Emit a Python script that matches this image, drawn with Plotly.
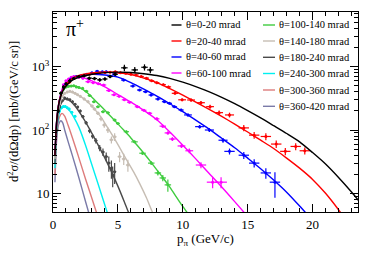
import plotly.graph_objects as go

# ---------------- data ----------------
labels = ["θ=0-20 mrad", "θ=20-40 mrad", "θ=40-60 mrad", "θ=60-100 mrad",
          "θ=100-140 mrad", "θ=140-180 mrad", "θ=180-240 mrad",
          "θ=240-300 mrad", "θ=300-360 mrad", "θ=360-420 mrad"]
colors = ["#000000", "#ff0000", "#0000ff", "#ff00ff", "#3fcc3f",
          "#c6bdb3", "#4a4a4a", "#00f0f0", "#dd7b7b", "#7a7aa8"]

# fit curves (momentum, cross section)
fit_p_0 = [0.15, 0.3, 0.5, 0.8, 1.2, 1.6, 2.0, 3.0, 4.0, 5.0, 6.0, 7.0, 8.0, 9.0, 10.0, 11.0, 12.0, 13.0, 14.0, 15.0, 16.0, 17.0, 18.0, 19.0, 20.0, 21.0, 22.0, 23.0, 24.0]
fit_v_0 = [40, 150, 290, 430, 550, 630, 680, 760, 805, 820, 810, 775, 725, 653, 569, 484, 403, 327, 260, 202, 155, 117, 88, 65, 44, 29, 17.8, 10.5, 5.9]
fit_p_1 = [0.15, 0.3, 0.5, 0.8, 1.2, 1.6, 2.0, 3.0, 4.0, 5.0, 6.0, 7.0, 8.0, 9.0, 10.0, 11.0, 12.0, 13.0, 14.0, 15.0, 16.0, 17.0, 18.0, 19.0, 20.0, 21.0, 22.0, 22.6]
fit_v_1 = [40, 150, 300, 450, 580, 670, 730, 800, 820, 800, 750, 660, 562, 452, 355, 275, 214, 164, 124, 93, 69, 51, 36, 25, 16.6, 10, 5.5, 3.7]
fit_p_2 = [0.15, 0.3, 0.5, 0.8, 1.2, 1.6, 2.0, 3.0, 4.0, 5.0, 6.0, 7.0, 8.0, 9.0, 10.0, 11.0, 12.0, 13.0, 14.0, 15.0, 16.0, 17.0, 18.0, 19.0, 19.6]
fit_v_2 = [40, 150, 300, 460, 590, 670, 720, 760, 740, 684, 562, 442, 343, 260, 195, 143, 104, 74, 52.5, 36, 24.5, 16.2, 10.4, 6.3, 4.6]
fit_p_3 = [0.15, 0.3, 0.5, 0.8, 1.2, 1.6, 2.0, 3.0, 4.0, 5.0, 6.0, 7.0, 8.0, 9.0, 10.0, 11.0, 12.0, 13.0, 14.0, 15.0]
fit_v_3 = [40, 150, 300, 500, 630, 690, 700, 596, 479, 363, 275, 204, 145, 93, 57.5, 35, 21, 12.6, 7.4, 4.3]
fit_p_4 = [0.15, 0.3, 0.5, 0.8, 1.2, 1.6, 2.0, 2.5, 3.0, 3.5, 4.0, 4.5, 5.0, 5.5, 6.0, 6.5, 7.0, 7.5, 8.0, 8.5, 9.0, 9.5, 10.0, 10.3, 10.8]
fit_v_4 = [40, 150, 300, 440, 490, 500, 470, 410, 330, 260, 205, 160, 125, 97, 75, 57, 43, 32, 23.5, 17.3, 12.5, 8.8, 6.2, 5.1, 3.6]
fit_p_5 = [0.15, 0.3, 0.5, 0.8, 1.1, 1.4, 1.8, 2.2, 2.7, 3.2, 3.7, 4.2, 4.7, 5.2, 5.7, 6.2, 6.7, 7.2, 7.65, 8.1]
fit_v_5 = [35, 130, 250, 360, 400, 400, 370, 330, 275, 214, 160, 110, 75, 50, 33, 22, 14, 8.5, 5.1, 3.2]
fit_p_6 = [0.15, 0.3, 0.5, 0.7, 1.0, 1.3, 1.7, 2.2, 2.8, 3.4, 4.0, 4.5, 5.0, 5.5, 5.8, 6.2]
fit_v_6 = [30, 110, 220, 280, 310, 290, 240, 170, 105, 62, 36, 22, 13, 7.3, 5.1, 3.3]
fit_p_7 = [0.15, 0.3, 0.5, 0.7, 0.85, 1.0, 1.3, 1.6, 2.0, 2.5, 3.0, 3.5, 4.0, 4.4]
fit_v_7 = [25, 100, 190, 230, 235, 228, 200, 160, 110, 58, 28, 13.5, 6.5, 3.6]
fit_p_8 = [0.15, 0.3, 0.5, 0.7, 0.9, 1.15, 1.5, 2.0, 2.5, 3.0, 3.5]
fit_v_8 = [20, 90, 160, 183, 165, 121, 75, 36, 17, 8.3, 4.0]
fit_p_9 = [0.15, 0.3, 0.45, 0.6, 0.75, 0.9, 1.2, 1.5, 2.0, 2.5, 3.0]
fit_v_9 = [15, 80, 125, 140, 130, 100, 62, 39, 17.5, 7.5, 3.3]

# measured points: momentum, value, horizontal half width, vertical error
dat_p_0 = [0.4, 0.6, 0.8, 1.0, 1.3, 1.6, 2.0, 2.4, 2.8, 3.2, 3.6, 4.0, 4.4, 4.8, 5.5, 6.3, 7.05, 7.5]
dat_v_0 = [200, 380, 480, 540, 600, 650, 700, 720, 660, 650, 620, 640, 700, 760, 960, 890, 980, 890]
dat_ex_0 = [0.1, 0.1, 0.1, 0.1, 0.15, 0.15, 0.2, 0.2, 0.2, 0.2, 0.2, 0.2, 0.2, 0.2, 0.25, 0.25, 0.25, 0.25]
dat_ey_0 = [15, 25, 30, 30, 35, 35, 40, 40, 40, 40, 40, 40, 45, 50, 110, 100, 110, 100]

dat_p_1 = [1.2, 1.6, 2.0, 2.4, 2.8, 3.2, 3.6, 4.0, 4.4, 4.8, 5.2, 5.6, 6.0, 6.4, 6.8, 7.2, 7.6, 8.0, 8.5, 8.9, 9.4, 9.95, 10.64, 11.4, 12.1, 12.8, 13.6, 14.7, 15.5, 16.4, 17.2, 17.9, 18.7, 19.4]
dat_v_1 = [560, 650, 700, 740, 760, 790, 800, 810, 820, 830, 800, 790, 760, 740, 700, 660, 600, 560, 520, 480, 380, 300, 298, 270, 234, 188, 173, 108, 83, 79, 60, 46, 55, 47]
dat_ex_1 = [0.2] * 20 + [0.25, 0.3, 0.3, 0.3, 0.3, 0.3, 0.35, 0.4, 0.4, 0.4, 0.4, 0.4, 0.4, 0.4]
dat_ey_1 = [22, 26, 28, 30, 30, 32, 32, 32, 33, 32, 32, 32, 30, 30, 28, 26, 24, 22, 21, 20, 16, 15, 18, 18, 17, 15, 15, 12, 10, 10, 8, 6, 7, 6]

dat_p_2 = [1.0, 1.4, 1.8, 2.2, 2.6, 3.0, 3.4, 3.8, 4.1, 4.74, 5.44, 6.15, 6.67, 7.13, 7.56, 8.08, 8.59, 8.97, 9.36, 9.87, 10.4, 11.3, 12.05, 13.1, 13.6, 14.7, 15.5, 16.4, 17.1]
dat_v_2 = [520, 640, 700, 720, 760, 800, 850, 830, 834, 766, 616, 495, 428, 403, 357, 309, 280, 264, 233, 207, 173, 113, 100, 69, 46, 40, 30, 21, 15]
dat_ex_2 = [0.15] * 9 + [0.2] * 11 + [0.3, 0.35, 0.35, 0.35, 0.4, 0.4, 0.4, 0.4, 0.4]
dat_ey_2 = [20, 25, 28, 29, 30, 32, 34, 33, 34, 31, 25, 20, 17, 16, 15, 13, 12, 11, 10, 9, 9, 7, 7, 6, 5, 5, 4.5, 4, 6.5]

dat_p_3 = [0.8, 1.0, 1.2, 1.4, 1.6, 1.8, 2.0, 2.3, 2.7, 3.1, 3.5, 3.9, 4.3, 4.7, 5.1, 5.5, 5.9, 6.5, 7.0, 7.44, 8.0, 8.46, 8.85, 9.2, 9.9, 10.5, 11.4, 12.3, 12.95]
dat_v_3 = [520, 600, 640, 680, 700, 690, 680, 655, 580, 560, 540, 514, 420, 360, 340, 300, 275, 233, 205, 184, 150, 115, 90, 72, 56, 47, 28, 15, 15]
dat_ex_3 = [0.1] * 8 + [0.2] * 13 + [0.25, 0.25, 0.25, 0.3, 0.3, 0.4, 0.45, 0.45]
dat_ey_3 = [20, 24, 26, 27, 28, 28, 27, 26, 23, 22, 22, 21, 17, 15, 14, 12, 11, 10, 9, 8, 7, 6, 5, 5, 4, 4, 3, 3, 3]

dat_p_4 = [0.6, 0.8, 1.0, 1.2, 1.4, 1.6, 1.8, 2.0, 2.28, 2.57, 2.82, 3.15, 3.46, 3.85, 4.23, 4.75, 5.0, 5.65, 6.28, 6.9, 7.57, 8.08, 8.46, 8.85]
dat_v_4 = [380, 440, 480, 490, 495, 500, 480, 470, 455, 410, 350, 280, 233, 195, 188, 144, 127, 94, 65, 43, 30, 21, 17.5, 13.6]
dat_ex_4 = [0.1] * 9 + [0.15] * 8 + [0.2, 0.25, 0.25, 0.25, 0.25, 0.25, 0.25]
dat_ey_4 = [15, 18, 19, 20, 20, 20, 19, 19, 18, 16, 14, 11, 9, 8, 8, 6, 5, 4, 3, 2.5, 2, 1.8, 2, 3]

dat_p_5 = [0.5, 0.7, 0.9, 1.1, 1.3, 1.5, 1.7, 1.9, 2.1, 2.4, 2.7, 3.0, 3.2, 3.46, 3.7, 3.95, 4.23, 4.5, 4.75, 5.13, 5.45, 5.77]
dat_v_5 = [260, 340, 380, 400, 410, 400, 380, 360, 340, 310, 280, 240, 215, 184, 150, 120, 100, 70, 78, 38, 35, 28]
dat_ex_5 = [0.1] * 11 + [0.15] * 11
dat_ey_5 = [12, 15, 17, 18, 18, 18, 17, 16, 16, 15, 14, 13, 12, 12, 12, 11, 10, 9, 11, 7, 7, 6]

dat_p_6 = [0.3, 0.5, 0.7, 0.9, 1.1, 1.3, 1.5, 1.7, 1.9, 2.1, 2.3, 2.55, 2.82, 3.05, 3.3, 3.6, 3.85, 4.1, 4.3, 4.5, 4.6, 4.75]
dat_v_6 = [100, 230, 290, 320, 310, 300, 280, 255, 230, 200, 163, 130, 97, 80, 68, 52, 45, 38, 30, 25, 19.5, 22]
dat_ex_6 = [0.1] * 10 + [0.12] * 12
dat_ey_6 = [6, 12, 14, 15, 15, 15, 14, 13, 12, 11, 10, 9, 8, 7, 7, 6, 6, 6, 8, 8, 7, 8]

dat_p_7 = [0.35, 0.5, 0.65, 0.8, 0.95, 1.1, 1.25, 1.45, 1.7]
dat_v_7 = [150, 200, 225, 235, 235, 225, 215, 190, 165]
dat_ex_7 = [0.07] * 9
dat_ey_7 = [8, 9, 10, 10, 10, 10, 9, 9, 8]

fits = [(fit_p_0, fit_v_0), (fit_p_1, fit_v_1), (fit_p_2, fit_v_2), (fit_p_3, fit_v_3),
        (fit_p_4, fit_v_4), (fit_p_5, fit_v_5), (fit_p_6, fit_v_6), (fit_p_7, fit_v_7),
        (fit_p_8, fit_v_8), (fit_p_9, fit_v_9)]
dats = [(dat_p_0, dat_v_0, dat_ex_0, dat_ey_0), (dat_p_1, dat_v_1, dat_ex_1, dat_ey_1),
        (dat_p_2, dat_v_2, dat_ex_2, dat_ey_2), (dat_p_3, dat_v_3, dat_ex_3, dat_ey_3),
        (dat_p_4, dat_v_4, dat_ex_4, dat_ey_4), (dat_p_5, dat_v_5, dat_ex_5, dat_ey_5),
        (dat_p_6, dat_v_6, dat_ex_6, dat_ey_6), (dat_p_7, dat_v_7, dat_ex_7, dat_ey_7)]

x_ticks = [0, 5, 10, 15, 20]
y_ticks = [10, 100, 1000]
y_ticktext = ["10", "10<sup>2</sup>", "10<sup>3</sup>"]
y_minor = [6, 7, 8, 9, 20, 30, 40, 50, 60, 70, 80, 90, 200, 300, 400, 500, 600, 700, 800, 900, 2000, 3000, 4000, 5000, 6000, 7000]

FONT = "Liberation Serif"

fig = go.Figure()
for i in range(9, -1, -1):
    c = colors[i]
    if i < len(dats):
        p, v, ex, ey = dats[i]
        fig.add_trace(go.Scatter(
            x=p, y=v, mode="markers", name=labels[i],
            marker=dict(color=c, size=3),
            error_x=dict(type="data", array=ex, width=0, thickness=1.2, color=c),
            error_y=dict(type="data", array=ey, width=0, thickness=1.2, color=c),
            showlegend=False, hoverinfo="skip"))
    fp, fv = fits[i]
    fig.add_trace(go.Scatter(
        x=fp, y=fv, mode="lines", name=labels[i],
        line=dict(color=c, width=1.4, shape="spline", smoothing=0.7),
        showlegend=False))

# Pixel helpers for the plot area (53..358 x, 12..212 y)
def px_x(x):
    return (x - 53) / 305.0

def px_y(y):
    return (212 - y) / 200.0

left_rows = [25, 41, 57, 73]
right_rows = [25, 41, 57.3, 73.5, 90, 106.3]
shapes = []
annotations = []
for k in range(10):
    if k < 4:
        y = left_rows[k]
        x0, x1, xt = 171.5, 181.5, 183.5
    else:
        y = right_rows[k - 4]
        x0, x1, xt = 263, 275, 277
    shapes.append(dict(type="line", xref="paper", yref="paper",
                       x0=px_x(x0), x1=px_x(x1), y0=px_y(y), y1=px_y(y),
                       line=dict(color=colors[k], width=1.4)))
    annotations.append(dict(xref="paper", yref="paper", x=px_x(xt), y=px_y(y),
                            text=labels[k], showarrow=False, xanchor="left",
                            yanchor="middle", font=dict(family=FONT, size=10.5, color="#000")))

annotations.append(dict(xref="paper", yref="paper", x=px_x(64), y=px_y(28),
                        text="π<sup>+</sup>", showarrow=False, xanchor="left",
                        yanchor="middle", font=dict(family=FONT, size=20, color="#000")))
# axis titles
annotations.append(dict(xref="paper", yref="paper", x=px_x(205.5), y=px_y(239),
                        text="p<sub>π</sub> (GeV/c)", showarrow=False, xanchor="center",
                        yanchor="middle", font=dict(family=FONT, size=13, color="#000")))
annotations.append(dict(xref="paper", yref="paper", x=px_x(13), y=px_y(112),
                        text="d<sup>2</sup>σ/(dΩdp) [mb/(GeV/c sr)]", showarrow=False,
                        textangle=-90, xanchor="center", yanchor="middle",
                        font=dict(family=FONT, size=12.5, color="#000")))

fig.update_layout(
    width=374, height=253,
    margin=dict(l=53, r=16, t=12, b=41),
    template="none",
    plot_bgcolor="white", paper_bgcolor="white",
    showlegend=False,
    shapes=shapes, annotations=annotations,
    font=dict(family=FONT, color="#000"),
    xaxis=dict(range=[0, 23.5], tickvals=x_ticks, ticks="inside", ticklen=8,
               tickwidth=1, tickcolor="#000", showline=True, linecolor="#000",
               linewidth=1, mirror="ticks", showgrid=False, zeroline=False,
               tickfont=dict(family=FONT, size=13),
               minor=dict(ticks="inside", ticklen=4, dtick=1, tick0=0,
                          tickcolor="#000", showgrid=False),
               automargin=False),
    yaxis=dict(type="log", range=[0.705, 3.864], tickvals=y_ticks, ticktext=y_ticktext,
               ticks="inside", ticklen=8, tickwidth=1, tickcolor="#000",
               showline=True, linecolor="#000", linewidth=1, mirror="ticks",
               showgrid=False, zeroline=False,
               tickfont=dict(family=FONT, size=13),
               minor=dict(ticks="inside", ticklen=4, tickvals=y_minor,
                          tickcolor="#000", showgrid=False),
               automargin=False),
)

fig.write_html("out.html", config={"displayModeBar": False},
               post_script="document.body.style.margin='0';document.body.style.padding='0';")
